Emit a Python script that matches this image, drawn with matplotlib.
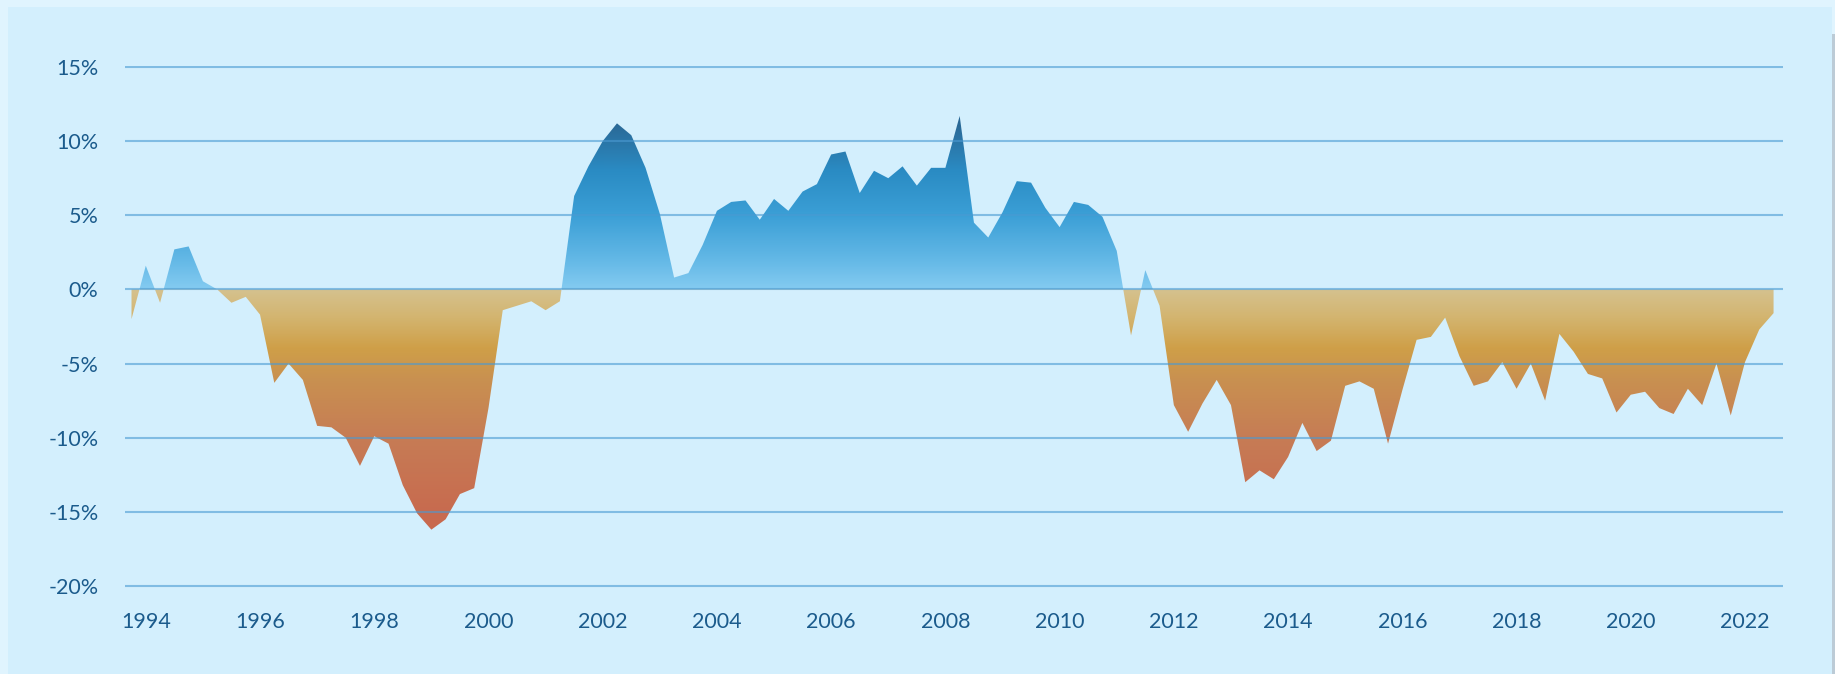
import numpy as np
import matplotlib
matplotlib.use("Agg")
import matplotlib.pyplot as plt
from matplotlib.colors import LinearSegmentedColormap, Normalize
from matplotlib.patches import Rectangle

# quarterly readings, 1993 Q4 through 2022 Q2 (percent)
start_year = 1993.75
values = [
    -2.0, 1.6, -0.9, 2.7, 2.9, 0.55, 0.0, -0.9, -0.5,
    -1.7, -6.3, -5.0, -6.1,
    -9.2, -9.3, -10.0, -11.9,
    -9.9, -10.4, -13.2, -15.1,
    -16.2, -15.5, -13.8, -13.4,
    -8.0, -1.4, -1.1, -0.8,
    -1.4, -0.8, 6.3, 8.3,
    10.0, 11.2, 10.4, 8.2,
    5.1, 0.8, 1.1, 3.0,
    5.3, 5.9, 6.0, 4.7,
    6.1, 5.3, 6.6, 7.1,
    9.1, 9.3, 6.5, 8.0,
    7.5, 8.3, 7.0, 8.2,
    8.2, 11.7, 4.5, 3.5,
    5.2, 7.3, 7.2, 5.5,
    4.2, 5.9, 5.7, 4.9,
    2.6, -3.1, 1.3, -1.1,
    -7.8, -9.6, -7.7, -6.1,
    -7.8, -13.0, -12.2, -12.8,
    -11.3, -9.0, -10.9, -10.2,
    -6.5, -6.2, -6.7, -10.4,
    -6.8, -3.4, -3.2, -1.9,
    -4.5, -6.5, -6.2, -4.9,
    -6.7, -5.0, -7.5, -3.0,
    -4.2, -5.7, -6.0, -8.3,
    -7.1, -6.9, -8.0, -8.4,
    -6.7, -7.8, -5.0, -8.5,
    -4.9, -2.7, -1.6,
]
year_ticks = list(range(1994, 2023, 2))
pct_ticks = [15, 10, 5, 0, -5, -10, -15, -20]
pct_labels = ["15%", "10%", "5%", "0%", "-5%", "-10%", "-15%", "-20%"]

# colour stops along the value axis (blue above zero, gold/red below)
grad_stops = [
    (15, "#1f5684"), (11, "#2a6a98"), (8, "#2a8bc3"), (5, "#3b9fd6"),
    (2, "#63b8e6"), (0, "#84cbf1"),
    (0, "#d5c28f"), (-2, "#d3b46e"), (-4, "#cf9f48"), (-6, "#c99150"),
    (-10, "#c67c55"), (-15, "#c86b4f"), (-20, "#c8624a"),
]

plt.rcParams['font.family'] = ['Lato', 'DejaVu Sans']
text_color = "#1b5b8c"

fig = plt.figure(figsize=(18.35, 6.74), dpi=100, facecolor="#e0f4fe")
fig.patches.append(Rectangle((8 / 1835, 0), 1824 / 1835, 667 / 674,
                             transform=fig.transFigure, facecolor="#d3effd",
                             edgecolor="none", zorder=-10))
fig.patches.append(Rectangle((1832 / 1835, 0), 3 / 1835, 640 / 674,
                             transform=fig.transFigure, facecolor="#bccbd6",
                             edgecolor="none", zorder=-10))

ax = fig.add_axes([125 / 1835, 86.5 / 674, 1657.7 / 1835, 522 / 674])
ax.set_facecolor("none")

x = start_year + 0.25 * np.arange(len(values))
y = np.array(values)

xlim = (1993.636, 2022.66)
ylim = (-20.1, 15.1)

lo, hi = -20.0, 15.0
cmap = LinearSegmentedColormap.from_list(
    "gap", [((v - lo) / (hi - lo), c) for v, c in reversed(grad_stops)], N=1024)
grad = np.linspace(lo, hi, 1000).reshape(-1, 1)
im = ax.imshow(grad, extent=[xlim[0], xlim[1], lo, hi], origin="lower",
               aspect="auto", cmap=cmap, norm=Normalize(lo, hi),
               interpolation="bilinear", zorder=0)

area = ax.fill_between(x, y, 0, facecolor="none", edgecolor="none")
im.set_clip_path(area.get_paths()[0], transform=ax.transData)

ax.set_xlim(*xlim)
ax.set_ylim(*ylim)

ax.set_yticks(pct_ticks)
ax.set_yticklabels(pct_labels)
ax.set_xticks(year_ticks)
ax.set_xticklabels([str(t) for t in year_ticks])
ax.tick_params(length=0, labelsize=15.5, colors=text_color)
ax.tick_params(axis="y", pad=19)
ax.tick_params(axis="x", pad=18)

ax.grid(axis="y", color="#4a9ad2", alpha=0.6, lw=1.5)
ax.grid(axis="x", visible=False)
for s in ax.spines.values():
    s.set_visible(False)

fig.savefig("out.png", dpi=100, facecolor=fig.get_facecolor())
